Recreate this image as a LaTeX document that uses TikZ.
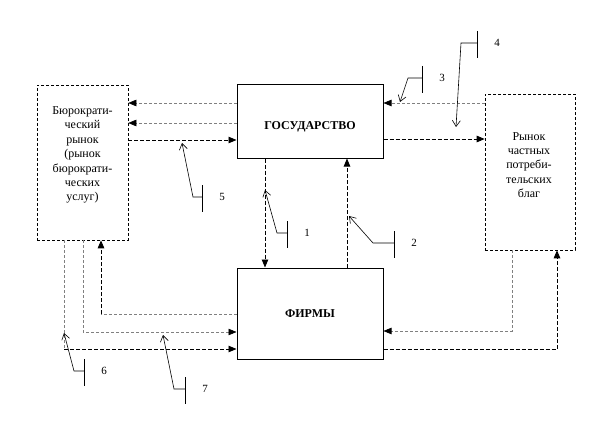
\documentclass[tikz,border=0pt]{standalone}
\usepackage{fontspec}
\setmainfont{Liberation Serif}
\usetikzlibrary{arrows.meta,positioning,calc}

\begin{document}
\begin{tikzpicture}[x=1pt, y=-1pt,
  mainbox/.style={draw, line width=1pt, align=center, font=\fontsize{12}{14}\selectfont\bfseries},
  maintxt/.style={font=\fontsize{12}{14}\selectfont\bfseries},
  mktbox/.style={draw, line width=0.6pt, dash pattern=on 3pt off 2pt},
  mkttxt/.style={align=center, font=\fontsize{12}{14.4}\selectfont},
  flow/.style={line width=0.9pt, dash pattern=on 4pt off 2pt, -{Triangle[length=8pt,width=6.5pt]}},
  flowg/.style={gray, line width=0.6pt, dash pattern=on 3pt off 2pt, -{Triangle[length=8pt,width=6.5pt,color=black]}},
  seg/.style={line width=0.9pt, dash pattern=on 4pt off 2pt},
  segg/.style={gray, line width=0.6pt, dash pattern=on 3pt off 2pt},
  pointer/.style={line width=0.6pt},
  num/.style={font=\fontsize{11}{13}\selectfont}]
\useasboundingbox (0,0) rectangle (595,436);

% boxes
\node[mktbox, minimum width=91pt, minimum height=155pt] (bureau) at (82.5,162.5) {};
\node[mkttxt] (bureautxt) at (82.5,155) {Бюрократи-\\ческий\\рынок\\(рынок\\бюрократи-\\ческих\\услуг)};
\node[mainbox, minimum width=146pt, minimum height=73pt] (gov) at (310,121.5) {};
\node[maintxt] (govtxt) at (310,127) {ГОСУДАРСТВО};
\node[mktbox, minimum width=90pt, minimum height=156pt] (privmkt) at (530,172) {};
\node[mkttxt] (privtxt) at (529,165) {Рынок\\частных\\потреби-\\тельских\\благ};
\node[mainbox, minimum width=146pt, minimum height=91pt] (firms) at (310,313.5) {ФИРМЫ};

% state <-> markets
\draw[flowg] (gov.west |- 0,103) -- (bureau.east |- 0,103);
\draw[flowg] (gov.west |- 0,123) -- (bureau.east |- 0,123);
\draw[flow] (bureau.east |- 0,140) -- (gov.west |- 0,140);
\draw[flowg] (privmkt.west |- 0,103) -- (gov.east |- 0,103);
\draw[flow] (gov.east |- 0,139) -- (privmkt.west |- 0,139);

% state <-> firms
\draw[flow] (gov.south -| 265,0) -- (firms.north -| 265,0);
\draw[flow] (firms.north -| 347,0) -- (gov.south -| 347,0);

% bureaucratic market <-> firms
\coordinate (c6) at (64,349);
\draw[segg] (bureau.south -| c6) -- (c6);
\draw[flow] (c6) -- (firms.west |- c6);
\draw[flowg] (bureau.south -| 83,0) |- (firms.west |- 0,332);
\coordinate (cb) at (101,314);
\draw[segg] (firms.west |- cb) -- (cb);
\draw[flow] (cb) -- (bureau.south -| cb);

% private market <-> firms
\draw[flowg] (privmkt.south -| 512,0) |- (firms.east |- 0,331);
\draw[flow] (firms.east |- 0,349) -| (privmkt.south -| 557,0);

% numbered pointers
\foreach \n/\tx/\ty/\kx/\ky/\bx in {1/265/190/277/233/287, 2/349/216/373/243/394,
    3/400/102/408/78/422, 4/456/127/461/43/477, 5/182/143/193/197/202,
    6/64/333/74/371/84, 7/163/335/174/389/185} {
  \draw[pointer, -{Straight Barb[length=6pt,width=8pt]}] (\bx,\ky) -- (\kx,\ky) -- (\tx,\ty);
  \draw[pointer] (\bx,\ky-12) -- (\bx,\ky+15);
  \node[num] (n\n) at (\bx+20,\ky) {\n};
}
\end{tikzpicture}
\end{document}
